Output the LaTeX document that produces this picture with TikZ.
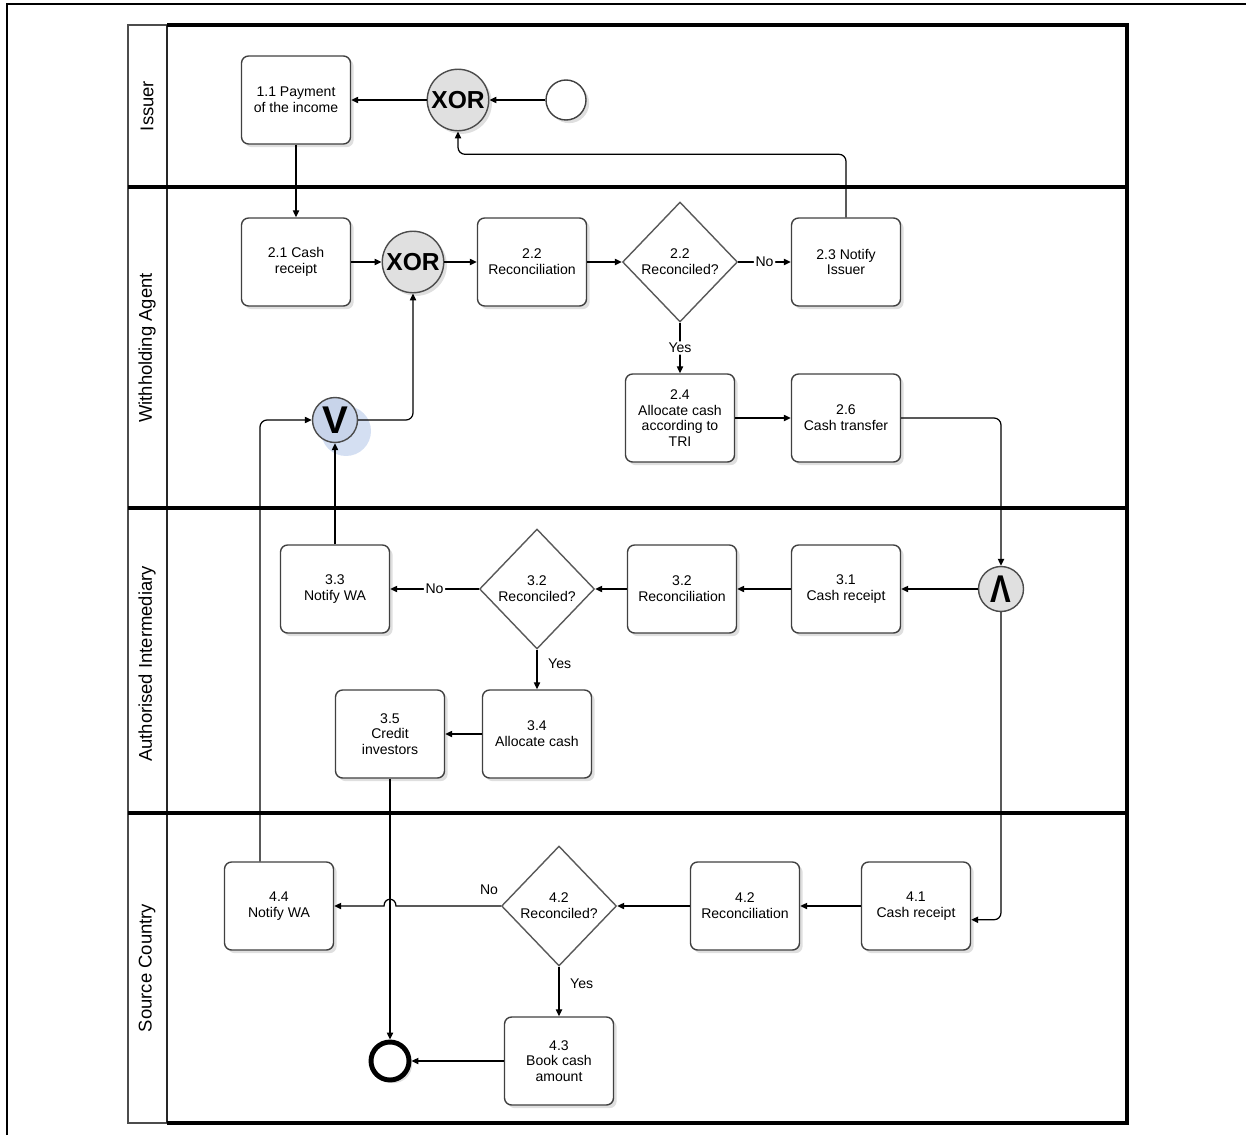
\documentclass[tikz,border=0pt]{standalone}
\usepackage{fontspec}
\setmainfont{Liberation Sans}
\usetikzlibrary{shapes.geometric,arrows.meta,shadows}

\begin{document}
\begin{tikzpicture}[x=0.02cm,y=-0.02cm,
  softshadow/.style={drop shadow={opacity=0.25,shadow xshift=1.8pt,shadow yshift=-1.8pt}},
  task/.style={draw=black!75,line width=0.8pt,rounded corners=4pt,fill=white,
    minimum width=2.18cm,minimum height=1.76cm,align=center,inner sep=1pt,
    font=\fontsize{8}{9}\selectfont,softshadow},
  decision/.style={diamond,draw=black!65,line width=0.8pt,fill=white,
    minimum width=2.3cm,minimum height=2.4cm,inner sep=0pt,align=center,
    font=\fontsize{8}{9}\selectfont},
  xorgw/.style={circle,draw=black!70,line width=0.8pt,fill=black!12,
    minimum size=1.23cm,inner sep=0pt,font=\bfseries\fontsize{14}{14}\selectfont,softshadow},
  smallgw/.style={circle,draw=black!70,line width=0.8pt,
    minimum size=0.9cm,inner sep=0pt,font=\bfseries\fontsize{22}{22}\selectfont},
  startev/.style={circle,draw=black!75,line width=0.8pt,fill=white,minimum size=0.8cm,softshadow},
  endev/.style={circle,draw=black,line width=2.8pt,fill=white,minimum size=0.76cm,softshadow},
  lanetitle/.style={rotate=90,font=\fontsize{10.5}{11}\selectfont},
  flow/.style={draw=black,line width=0.7pt,-{Triangle[length=4pt,width=3.6pt]},rounded corners=4pt},
  lbl/.style={font=\fontsize{8}{9}\selectfont,inner sep=1pt},
  lanesep/.style={line width=2.2pt,black}
]
\useasboundingbox (0,0) rectangle (1246,1135);

% outer frame
\draw[line width=1.7pt] (7,1135) -- (7,4) -- (1246,4);

% pool and lanes
\draw[black!70,line width=1pt] (167,25) -- (128,25) -- (128,1123) -- (167,1123);
\draw[black!85,line width=1.3pt] (167,25) -- (167,1123);
\draw[lanesep] (167,25) -- (1127,25) -- (1127,1123) -- (167,1123);
\draw[lanesep] (128,187) -- (1127,187);
\draw[lanesep] (128,508) -- (1127,508);
\draw[lanesep] (128,813) -- (1127,813);

\node[lanetitle] (lIssuer) at (147,106) {Issuer};
\node[lanetitle] (lWA) at (147,348) {Withholding Agent};
\node[lanetitle] (lAI) at (147,664) {Authorised Intermediary};
\node[lanetitle] (lSC) at (147,968) {Source Country};

% Issuer
\node[task] (t11) at (296,100) {1.1 Payment\\of the income};
\node[xorgw] (x1) at (458,100) {XOR};
\node[startev] (start) at (566,100) {};

% Withholding Agent
\node[task] (t21) at (296,262) {2.1 Cash\\receipt};
\node[xorgw] (x2) at (413,262) {XOR};
\node[task] (t22) at (532,262) {2.2\\Reconciliation};
\node[decision] (d22) at (680,262) {2.2\\Reconciled?};
\node[task] (t23) at (846,262) {2.3 Notify\\Issuer};
\node[task] (t24) at (680,418) {2.4\\Allocate cash\\according to\\TRI};
\node[task] (t26) at (846,418) {2.6\\Cash transfer};
\fill[fill={rgb,255:red,176;green,196;blue,232},opacity=0.55] (346,431) circle (0.5cm);
\node[smallgw,fill={rgb,255:red,200;green,212;blue,234}] (or) at (335,420) {V};

% Authorised Intermediary
\node[smallgw,fill=black!12] (and) at (1001,589) {\scalebox{0.8}[1]{Λ}};
\node[task] (t31) at (846,589) {3.1\\Cash receipt};
\node[task] (t32) at (682,589) {3.2\\Reconciliation};
\node[decision] (d32) at (537,589) {3.2\\Reconciled?};
\node[task] (t33) at (335,589) {3.3\\Notify WA};
\node[task] (t34) at (537,734) {3.4\\Allocate cash};
\node[task] (t35) at (390,734) {3.5\\Credit\\investors};

% Source Country
\node[task] (t41) at (916,906) {4.1\\Cash receipt};
\node[task] (t42) at (745,906) {4.2\\Reconciliation};
\node[decision] (d42) at (559,906) {4.2\\Reconciled?};
\node[task] (t44) at (279,906) {4.4\\Notify WA};
\node[task] (t43) at (559,1061) {4.3\\Book cash\\amount};
\node[endev] (end) at (390,1061) {};

% sequence flows
\draw[flow] (start.west) -- (x1.east);
\draw[flow] (x1.west) -- (t11.east);
\draw[flow] (t11.south) -- (t21.north);
\draw[flow] (t21.east) -- (x2.west);
\draw[flow] (x2.east) -- (t22.west);
\draw[flow] (t22.east) -- (d22.west);
\draw[flow] (d22.east) -- node[lbl,fill=white] {No} (t23.west);
\draw[flow] (d22.south) -- node[lbl,fill=white] {Yes} (t24.north);
\draw[flow] (t23.north) -- ++(0,-63) -| (x1.south);
\draw[flow] (t24.east) -- (t26.west);
\draw[flow] (t26.east) -| (and.north);
\draw[flow] (or.east) -| (x2.south);

\draw[flow] (and.west) -- (t31.east);
\draw[flow] (t31.west) -- (t32.east);
\draw[flow] (t32.west) -- (d32.east);
\draw[flow] (d32.west) -- node[lbl,fill=white] {No} (t33.east);
\draw[flow] (d32.south) -- node[lbl,right=5pt,pos=0.35] {Yes} (t34.north);
\draw[flow] (t34.west) -- (t35.east);
\draw[flow] (t33.north) -- (or.south);
\draw[flow] (and.south) |- (t41.-14);

\draw[flow] (t41.west) -- (t42.east);
\draw[flow] (t42.west) -- (d42.east);
\draw[flow,sharp corners] (d42.west) -- (396,906) .. controls (396,897) and (384,897) .. (384,906) -- (t44.east);
\node[lbl] (noSC) at (489,890) {No};
\draw[flow] (d42.south) -- node[lbl,right=5pt,pos=0.35] {Yes} (t43.north);
\draw[flow] (t43.west) -- (end.east);
\draw[flow] (t35.south) -- (end.north);
\draw[flow] ([xshift=-0.38cm]t44.north) |- (or.west);
\end{tikzpicture}
\end{document}
